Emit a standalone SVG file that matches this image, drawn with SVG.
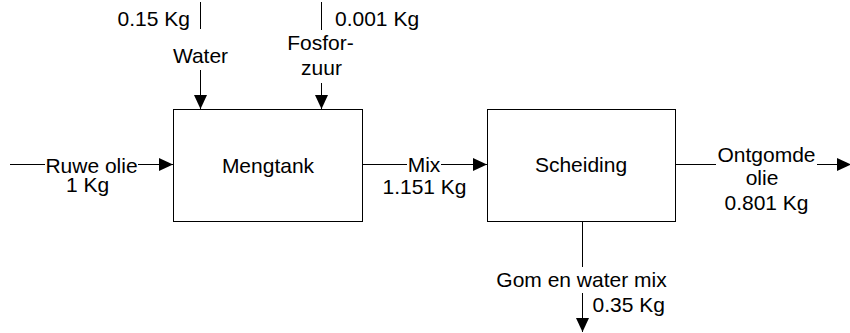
<svg xmlns="http://www.w3.org/2000/svg" width="850" height="333" viewBox="0 0 850 333">
<style>
text{font-family:"Liberation Sans",Arial,sans-serif;font-size:21px;fill:#000}
.c{text-anchor:middle}
.ln{stroke:#000;stroke-width:1;fill:none}
.box{fill:#fff;stroke:#000;stroke-width:1}
</style>
<defs>
<marker id="ah" viewBox="0 0 14 13" refX="14" refY="6.5" markerWidth="14" markerHeight="13" markerUnits="userSpaceOnUse" orient="auto">
<path d="M0,0 L14,6.5 L0,13 Z" fill="#000"/>
</marker>
</defs>
<g id="connectors">
<line class="ln" x1="200.5" y1="2" x2="200.5" y2="29"/>
<line class="ln" x1="200.5" y1="70" x2="200.5" y2="109" marker-end="url(#ah)"/>
<line class="ln" x1="321.5" y1="2" x2="321.5" y2="30"/>
<line class="ln" x1="321.5" y1="83" x2="321.5" y2="109" marker-end="url(#ah)"/>
<line class="ln" x1="10" y1="164.5" x2="45" y2="164.5"/>
<line class="ln" x1="138" y1="164.5" x2="173" y2="164.5" marker-end="url(#ah)"/>
<line class="ln" x1="362" y1="164.5" x2="407" y2="164.5"/>
<line class="ln" x1="441" y1="164.5" x2="487" y2="164.5" marker-end="url(#ah)"/>
<line class="ln" x1="676" y1="164.5" x2="716" y2="164.5"/>
<line class="ln" x1="817" y1="164.5" x2="851" y2="164.5" marker-end="url(#ah)"/>
<line class="ln" x1="582.5" y1="222" x2="582.5" y2="267"/>
<line class="ln" x1="582.5" y1="293" x2="582.5" y2="332" marker-end="url(#ah)"/>
<text x="190" y="26" text-anchor="end">0.15 Kg</text>
<text class="c" x="200.5" y="62.5">Water</text>
<text x="335" y="26">0.001 Kg</text>
<text class="c" x="320.5" y="50">Fosfor-</text>
<text class="c" x="321.5" y="75">zuur</text>
<text class="c" x="91.5" y="172.5">Ruwe olie</text>
<text class="c" x="87.5" y="191.5">1 Kg</text>
<text class="c" x="424" y="172">Mix</text>
<text class="c" x="424.5" y="193.5">1.151 Kg</text>
<text class="c" x="766.5" y="161.5">Ontgomde</text>
<text class="c" x="762" y="184.5">olie</text>
<text class="c" x="766.5" y="209.5">0.801 Kg</text>
<text class="c" x="581.5" y="286.5">Gom en water mix</text>
<text x="592.5" y="311.5">0.35 Kg</text>
</g>
<g id="mengtank">
<rect class="box" x="173.5" y="109.5" width="189" height="112"/>
<text class="c" x="268" y="172.5">Mengtank</text>
</g>
<g id="scheiding">
<rect class="box" x="487.5" y="109.5" width="188" height="112"/>
<text class="c" x="581" y="172">Scheiding</text>
</g>
</svg>
